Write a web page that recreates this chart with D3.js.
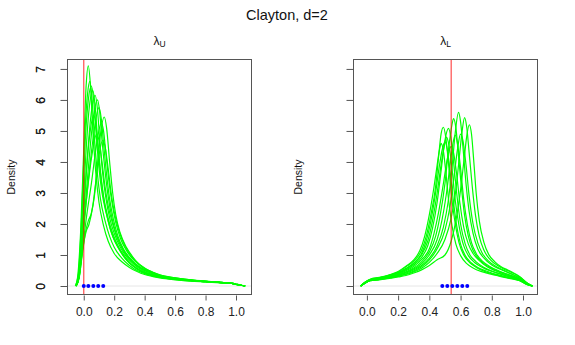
<!DOCTYPE html>
<html>
<head>
<meta charset="utf-8">
<script src="https://cdn.jsdelivr.net/npm/d3@7"></script>
<style>
  html, body { margin: 0; padding: 0; background: #fff; }
  svg { display: block; font-family: "Liberation Sans", Arial, sans-serif; }
</style>
</head>
<body>
<div id="chart"></div>
<script>
// density estimates of lambda_U ([x, density])
const upperCurves = [
  [[-0.055,0],[-0.04,0.3],[-0.02,1.8],[0,4.4],[0.015,6.4],[0.03,7.1],[0.045,6.4],[0.06,5.0],[0.08,3.6],[0.1,2.7],[0.13,1.95],[0.16,1.45],[0.2,1.05],[0.25,0.78],[0.3,0.6],[0.35,0.47],[0.4,0.37],[0.5,0.26],[0.6,0.2],[0.7,0.16],[0.8,0.13],[0.9,0.1],[0.97,0.08],[1.01,0.04],[1.06,0]],
  [[-0.055,0],[-0.035,0.4],[-0.015,2.1],[0.005,4.7],[0.025,6.2],[0.04,6.6],[0.055,6.0],[0.07,4.8],[0.09,3.6],[0.11,2.8],[0.14,2.1],[0.17,1.6],[0.2,1.25],[0.25,0.9],[0.3,0.66],[0.35,0.5],[0.4,0.4],[0.5,0.28],[0.6,0.21],[0.7,0.17],[0.8,0.14],[0.9,0.11],[0.97,0.08],[1.01,0.04],[1.06,0]],
  [[-0.05,0],[-0.03,0.5],[-0.01,2.3],[0.01,4.7],[0.03,6.0],[0.05,6.45],[0.065,6.0],[0.08,5.0],[0.1,3.8],[0.12,3.0],[0.15,2.3],[0.18,1.75],[0.22,1.3],[0.26,0.98],[0.3,0.74],[0.35,0.55],[0.4,0.42],[0.5,0.29],[0.6,0.22],[0.7,0.17],[0.8,0.14],[0.9,0.11],[0.97,0.08],[1.01,0.04],[1.06,0]],
  [[-0.05,0],[-0.03,0.4],[-0.01,1.9],[0.01,3.9],[0.035,5.7],[0.06,6.3],[0.075,5.8],[0.09,4.8],[0.11,3.7],[0.13,2.9],[0.16,2.2],[0.19,1.7],[0.23,1.25],[0.27,0.95],[0.31,0.72],[0.35,0.57],[0.4,0.44],[0.5,0.3],[0.6,0.23],[0.7,0.18],[0.8,0.14],[0.9,0.11],[0.97,0.08],[1.01,0.04],[1.06,0]],
  [[-0.05,0],[-0.03,0.35],[-0.01,1.6],[0.015,3.5],[0.045,5.4],[0.075,6.15],[0.09,5.7],[0.105,4.7],[0.125,3.6],[0.145,2.85],[0.17,2.2],[0.2,1.7],[0.24,1.25],[0.28,0.95],[0.32,0.74],[0.36,0.58],[0.4,0.47],[0.5,0.31],[0.6,0.23],[0.7,0.18],[0.8,0.15],[0.9,0.11],[0.97,0.08],[1.01,0.04],[1.06,0]],
  [[-0.05,0],[-0.03,0.3],[-0.01,1.4],[0.02,3.2],[0.055,5.1],[0.09,6.0],[0.105,5.6],[0.12,4.7],[0.14,3.7],[0.16,2.9],[0.185,2.2],[0.215,1.65],[0.25,1.25],[0.29,0.95],[0.33,0.73],[0.37,0.58],[0.42,0.46],[0.5,0.33],[0.6,0.24],[0.7,0.18],[0.8,0.15],[0.9,0.12],[0.97,0.09],[1.01,0.04],[1.06,0]],
  [[-0.05,0],[-0.03,0.3],[-0.01,1.3],[0.02,2.9],[0.06,4.7],[0.1,5.75],[0.115,5.4],[0.13,4.6],[0.15,3.6],[0.17,2.8],[0.195,2.15],[0.225,1.6],[0.26,1.2],[0.3,0.92],[0.34,0.72],[0.38,0.58],[0.42,0.47],[0.5,0.34],[0.6,0.25],[0.7,0.19],[0.8,0.15],[0.9,0.12],[0.97,0.09],[1.01,0.05],[1.06,0]],
  [[-0.05,0],[-0.03,0.25],[-0.01,1.1],[0.02,2.3],[0.05,3.3],[0.085,4.6],[0.115,5.25],[0.13,5.0],[0.145,4.3],[0.165,3.4],[0.185,2.7],[0.21,2.05],[0.24,1.55],[0.28,1.15],[0.32,0.88],[0.36,0.7],[0.4,0.56],[0.45,0.45],[0.5,0.36],[0.6,0.26],[0.7,0.2],[0.8,0.15],[0.9,0.12],[0.97,0.09],[1.01,0.05],[1.06,0]],
  [[-0.05,0],[-0.03,0.3],[-0.01,1.0],[0.01,1.7],[0.03,2.1],[0.05,2.35],[0.07,2.9],[0.09,3.9],[0.11,4.9],[0.135,5.45],[0.15,5.1],[0.17,4.0],[0.19,3.0],[0.21,2.3],[0.24,1.7],[0.28,1.25],[0.32,0.95],[0.36,0.72],[0.4,0.56],[0.45,0.43],[0.5,0.34],[0.6,0.25],[0.7,0.19],[0.8,0.15],[0.9,0.12],[0.97,0.09],[1.01,0.05],[1.06,0]],
  [[-0.05,0],[-0.03,0.35],[-0.01,1.1],[0.015,1.75],[0.035,2.0],[0.06,2.6],[0.08,3.4],[0.1,4.2],[0.125,4.7],[0.14,4.5],[0.16,3.8],[0.18,3.0],[0.2,2.4],[0.23,1.8],[0.27,1.3],[0.31,0.98],[0.35,0.76],[0.4,0.58],[0.45,0.45],[0.5,0.35],[0.6,0.26],[0.7,0.2],[0.8,0.16],[0.9,0.12],[0.97,0.09],[1.01,0.05],[1.06,0]],
  [[-0.05,0],[-0.03,0.4],[-0.01,1.8],[0.015,3.6],[0.04,4.9],[0.065,5.5],[0.08,5.2],[0.095,4.4],[0.115,3.4],[0.135,2.7],[0.16,2.1],[0.19,1.6],[0.23,1.2],[0.27,0.9],[0.31,0.7],[0.35,0.55],[0.4,0.43],[0.5,0.3],[0.6,0.22],[0.7,0.17],[0.8,0.14],[0.9,0.11],[0.97,0.08],[1.01,0.04],[1.06,0]],
  [[-0.05,0],[-0.03,0.35],[-0.01,1.5],[0.02,2.9],[0.05,4.1],[0.085,4.9],[0.1,4.7],[0.12,4.0],[0.14,3.2],[0.16,2.6],[0.19,2.0],[0.22,1.55],[0.26,1.15],[0.3,0.88],[0.34,0.7],[0.38,0.56],[0.42,0.46],[0.5,0.33],[0.6,0.24],[0.7,0.18],[0.8,0.14],[0.9,0.11],[0.97,0.08],[1.01,0.04],[1.06,0]]
];

// density estimates of lambda_L
const lowerCurves = [
  [[-0.04,0],[-0.01,0.12],[0.02,0.2],[0.08,0.26],[0.15,0.36],[0.2,0.45],[0.25,0.62],[0.3,0.8],[0.35,1.15],[0.38,1.6],[0.41,2.3],[0.44,3.2],[0.46,4.2],[0.475,4.9],[0.49,5.12],[0.505,4.8],[0.52,4.1],[0.54,3.0],[0.56,2.2],[0.59,1.4],[0.62,1.0],[0.66,0.75],[0.7,0.6],[0.75,0.48],[0.8,0.4],[0.85,0.33],[0.9,0.27],[0.95,0.22],[0.99,0.15],[1.03,0.05],[1.06,0]],
  [[-0.04,0],[-0.01,0.13],[0.02,0.21],[0.08,0.27],[0.15,0.35],[0.2,0.43],[0.25,0.57],[0.3,0.74],[0.35,1.05],[0.38,1.45],[0.41,2.1],[0.44,3.0],[0.465,3.9],[0.485,4.45],[0.5,4.65],[0.515,4.4],[0.535,3.6],[0.555,2.7],[0.575,1.95],[0.6,1.35],[0.63,0.98],[0.67,0.74],[0.71,0.6],[0.76,0.49],[0.8,0.42],[0.85,0.35],[0.9,0.28],[0.95,0.23],[0.99,0.16],[1.03,0.05],[1.06,0]],
  [[-0.04,0],[-0.01,0.12],[0.02,0.2],[0.08,0.25],[0.15,0.33],[0.2,0.4],[0.25,0.52],[0.3,0.68],[0.35,0.92],[0.39,1.3],[0.42,1.85],[0.45,2.7],[0.475,3.7],[0.5,4.7],[0.523,5.08],[0.54,4.7],[0.555,4.0],[0.575,3.0],[0.6,2.0],[0.63,1.35],[0.66,1.0],[0.7,0.78],[0.75,0.6],[0.8,0.48],[0.85,0.4],[0.9,0.32],[0.95,0.25],[0.99,0.17],[1.03,0.05],[1.06,0]],
  [[-0.04,0],[-0.01,0.11],[0.02,0.19],[0.08,0.24],[0.15,0.31],[0.2,0.38],[0.25,0.49],[0.3,0.63],[0.35,0.85],[0.4,1.2],[0.43,1.7],[0.46,2.4],[0.49,3.3],[0.515,4.1],[0.54,4.5],[0.555,4.3],[0.575,3.6],[0.595,2.7],[0.62,1.9],[0.65,1.35],[0.68,1.05],[0.72,0.82],[0.77,0.62],[0.82,0.5],[0.86,0.42],[0.9,0.35],[0.95,0.27],[0.99,0.18],[1.03,0.06],[1.06,0]],
  [[-0.04,0],[-0.01,0.11],[0.02,0.19],[0.08,0.23],[0.15,0.3],[0.2,0.36],[0.25,0.46],[0.3,0.58],[0.35,0.78],[0.4,1.1],[0.44,1.6],[0.47,2.3],[0.5,3.3],[0.525,4.5],[0.545,5.2],[0.555,5.4],[0.57,5.1],[0.585,4.3],[0.605,3.2],[0.625,2.3],[0.65,1.6],[0.68,1.15],[0.72,0.86],[0.77,0.65],[0.82,0.52],[0.86,0.44],[0.9,0.37],[0.95,0.28],[0.99,0.19],[1.03,0.06],[1.06,0]],
  [[-0.04,0],[-0.01,0.1],[0.02,0.18],[0.08,0.23],[0.15,0.29],[0.2,0.35],[0.25,0.44],[0.3,0.55],[0.35,0.72],[0.4,1.0],[0.45,1.5],[0.48,2.1],[0.51,3.0],[0.535,4.0],[0.555,4.7],[0.566,4.87],[0.58,4.6],[0.6,3.8],[0.62,2.8],[0.645,1.95],[0.67,1.4],[0.7,1.05],[0.74,0.8],[0.79,0.62],[0.84,0.5],[0.88,0.42],[0.92,0.35],[0.96,0.27],[0.995,0.18],[1.03,0.06],[1.06,0]],
  [[-0.04,0],[-0.01,0.1],[0.02,0.18],[0.08,0.22],[0.15,0.28],[0.2,0.34],[0.25,0.42],[0.3,0.52],[0.35,0.66],[0.4,0.9],[0.45,1.3],[0.49,1.9],[0.52,2.7],[0.545,3.8],[0.565,4.9],[0.587,5.6],[0.6,5.3],[0.615,4.5],[0.635,3.3],[0.655,2.4],[0.68,1.7],[0.71,1.2],[0.75,0.9],[0.8,0.68],[0.85,0.55],[0.89,0.46],[0.93,0.38],[0.97,0.28],[1.0,0.18],[1.035,0.06],[1.06,0]],
  [[-0.04,0],[-0.01,0.1],[0.02,0.17],[0.08,0.21],[0.15,0.27],[0.2,0.32],[0.25,0.39],[0.3,0.48],[0.35,0.62],[0.4,0.84],[0.45,1.2],[0.5,1.8],[0.53,2.5],[0.56,3.6],[0.58,4.4],[0.6,4.9],[0.615,4.7],[0.635,3.9],[0.655,2.9],[0.68,2.0],[0.71,1.4],[0.74,1.05],[0.78,0.8],[0.83,0.62],[0.87,0.52],[0.91,0.43],[0.95,0.33],[0.99,0.22],[1.03,0.07],[1.06,0]],
  [[-0.04,0],[-0.01,0.1],[0.02,0.17],[0.08,0.21],[0.15,0.26],[0.2,0.31],[0.25,0.37],[0.3,0.45],[0.35,0.57],[0.4,0.76],[0.45,1.05],[0.5,1.5],[0.54,2.2],[0.57,3.1],[0.595,4.3],[0.61,5.0],[0.626,5.43],[0.64,5.1],[0.655,4.3],[0.675,3.2],[0.695,2.3],[0.72,1.6],[0.75,1.15],[0.79,0.85],[0.84,0.65],[0.88,0.54],[0.92,0.45],[0.96,0.35],[0.995,0.23],[1.03,0.08],[1.06,0]],
  [[-0.04,0],[-0.01,0.1],[0.02,0.17],[0.08,0.2],[0.15,0.25],[0.2,0.29],[0.25,0.34],[0.3,0.42],[0.35,0.52],[0.4,0.66],[0.45,0.85],[0.5,1.0],[0.54,1.45],[0.57,2.1],[0.6,3.1],[0.625,4.2],[0.64,4.85],[0.656,5.2],[0.67,4.9],[0.685,4.0],[0.7,3.0],[0.72,2.1],[0.75,1.4],[0.78,1.02],[0.82,0.78],[0.86,0.62],[0.9,0.52],[0.94,0.42],[0.98,0.3],[1.02,0.12],[1.06,0]],
  [[-0.04,0],[-0.01,0.13],[0.02,0.22],[0.08,0.28],[0.15,0.37],[0.2,0.47],[0.25,0.64],[0.3,0.84],[0.34,1.15],[0.37,1.6],[0.4,2.3],[0.43,3.2],[0.45,3.9],[0.465,4.4],[0.475,4.6],[0.49,4.35],[0.505,3.7],[0.525,2.7],[0.545,1.95],[0.57,1.35],[0.6,0.98],[0.64,0.72],[0.68,0.58],[0.73,0.47],[0.78,0.4],[0.83,0.34],[0.88,0.28],[0.93,0.23],[0.98,0.17],[1.02,0.06],[1.06,0]],
  [[-0.04,0],[-0.01,0.12],[0.02,0.2],[0.08,0.26],[0.15,0.34],[0.2,0.42],[0.25,0.55],[0.3,0.72],[0.35,1.0],[0.39,1.45],[0.42,2.1],[0.45,3.0],[0.475,3.9],[0.495,4.5],[0.51,4.8],[0.525,4.55],[0.545,3.8],[0.565,2.8],[0.59,1.95],[0.62,1.3],[0.65,0.98],[0.69,0.76],[0.74,0.6],[0.79,0.49],[0.84,0.41],[0.89,0.33],[0.94,0.26],[0.98,0.18],[1.02,0.06],[1.06,0]]
];

// blue rug points and true values (red lines)
const upperPoints = [0.0, 0.03, 0.063, 0.095, 0.128];
const lowerPoints = [0.483, 0.515, 0.547, 0.579, 0.611, 0.643];
const upperTrue = 0.0;
const lowerTrue = 0.54;

const xTicks = [0, 0.2, 0.4, 0.6, 0.8, 1.0];
const yTicks = [0, 1, 2, 3, 4, 5, 6, 7];

const W = 575, H = 345;
const svg = d3.select('#chart').append('svg')
  .attr('width', W).attr('height', H)
  .attr('viewBox', `0 0 ${W} ${H}`);

svg.append('rect').attr('width', W).attr('height', H).attr('fill', '#fff');

svg.append('text')
  .attr('x', 287).attr('y', 20)
  .attr('text-anchor', 'middle')
  .attr('font-size', 14.5)
  .attr('fill', '#111')
  .text('Clayton, d=2');

const y = d3.scaleLinear().domain([-0.29, 7.32]).range([295, 59]);

function drawPanel(opt) {
  const x = d3.scaleLinear().domain(opt.xDomain).range([opt.left, opt.right]);
  const g = svg.append('g');

  // subtitle lambda with subscript
  const t = g.append('text')
    .attr('x', (opt.left + opt.right) / 2).attr('y', 45)
    .attr('text-anchor', 'middle')
    .attr('font-size', 12)
    .attr('fill', '#111');
  t.append('tspan').text('λ');
  t.append('tspan').attr('dy', 2).attr('font-size', 8.5).text(opt.sub);

  // faint zero line
  g.append('line')
    .attr('x1', opt.left).attr('x2', opt.right)
    .attr('y1', y(0)).attr('y2', y(0))
    .attr('stroke', '#e6e6e6').attr('stroke-width', 1);

  const line = d3.line()
    .x(d => x(d[0]))
    .y(d => y(d[1]))
    .curve(d3.curveMonotoneX);

  g.append('g')
    .selectAll('path')
    .data(opt.curves)
    .enter()
    .append('path')
    .attr('d', line)
    .attr('fill', 'none')
    .attr('stroke', '#00ff00')
    .attr('stroke-width', 1.2);

  g.append('line')
    .attr('x1', x(opt.trueVal)).attr('x2', x(opt.trueVal))
    .attr('y1', 59).attr('y2', 295)
    .attr('stroke', '#ff0000').attr('stroke-opacity', 0.65).attr('stroke-width', 1.3);

  g.append('g')
    .selectAll('circle')
    .data(opt.points)
    .enter()
    .append('circle')
    .attr('cx', d => x(d)).attr('cy', y(0))
    .attr('r', 2)
    .attr('fill', '#0000ff');

  // box
  g.append('rect')
    .attr('x', opt.left + 0.5).attr('y', 59.5)
    .attr('width', opt.right - opt.left - 1).attr('height', 295 - 59 - 1)
    .attr('fill', 'none').attr('stroke', '#555');

  // x axis (line runs only from first to last tick, like R)
  const xa = g.append('g')
    .attr('transform', 'translate(0,295.5)')
    .call(d3.axisBottom(x).tickValues(xTicks).tickFormat(d3.format('.1f'))
      .tickSize(5).tickSizeOuter(0).tickPadding(7));
  xa.select('.domain').remove();
  xa.selectAll('.tick line').attr('stroke', '#555');
  xa.selectAll('text').attr('font-size', 12).attr('fill', '#222')
    .attr('font-family', '"Liberation Sans", Arial, sans-serif');

  // y axis with rotated labels
  const ya = g.append('g')
    .attr('transform', `translate(${opt.left + 0.5},0)`)
    .call(d3.axisLeft(y).tickValues(yTicks).tickFormat(d3.format('d')).tickSize(7).tickSizeOuter(0));
  ya.select('.domain').remove();
  ya.selectAll('.tick line').attr('stroke', '#555');
  ya.selectAll('text')
    .attr('font-size', 12).attr('fill', '#222')
    .attr('font-family', '"Liberation Sans", Arial, sans-serif')
    .attr('text-anchor', 'middle')
    .attr('x', 0).attr('dy', 0)
    .attr('transform', `translate(${40 - opt.left},0) rotate(-90)`)
    .attr('y', 4);

  g.append('text')
    .attr('transform', `translate(${opt.labelX},177) rotate(-90)`)
    .attr('text-anchor', 'middle')
    .attr('dy', '0.35em')
    .attr('font-size', 10.5)
    .attr('fill', '#111')
    .text('Density');
}

drawPanel({
  left: 67, right: 252, xDomain: [-0.11, 1.105],
  curves: upperCurves, points: upperPoints, trueVal: upperTrue,
  sub: 'U', labelX: 11
});

drawPanel({
  left: 353, right: 538, xDomain: [-0.089, 1.096],
  curves: lowerCurves, points: lowerPoints, trueVal: lowerTrue,
  sub: 'L', labelX: 298
});
</script>
</body>
</html>
